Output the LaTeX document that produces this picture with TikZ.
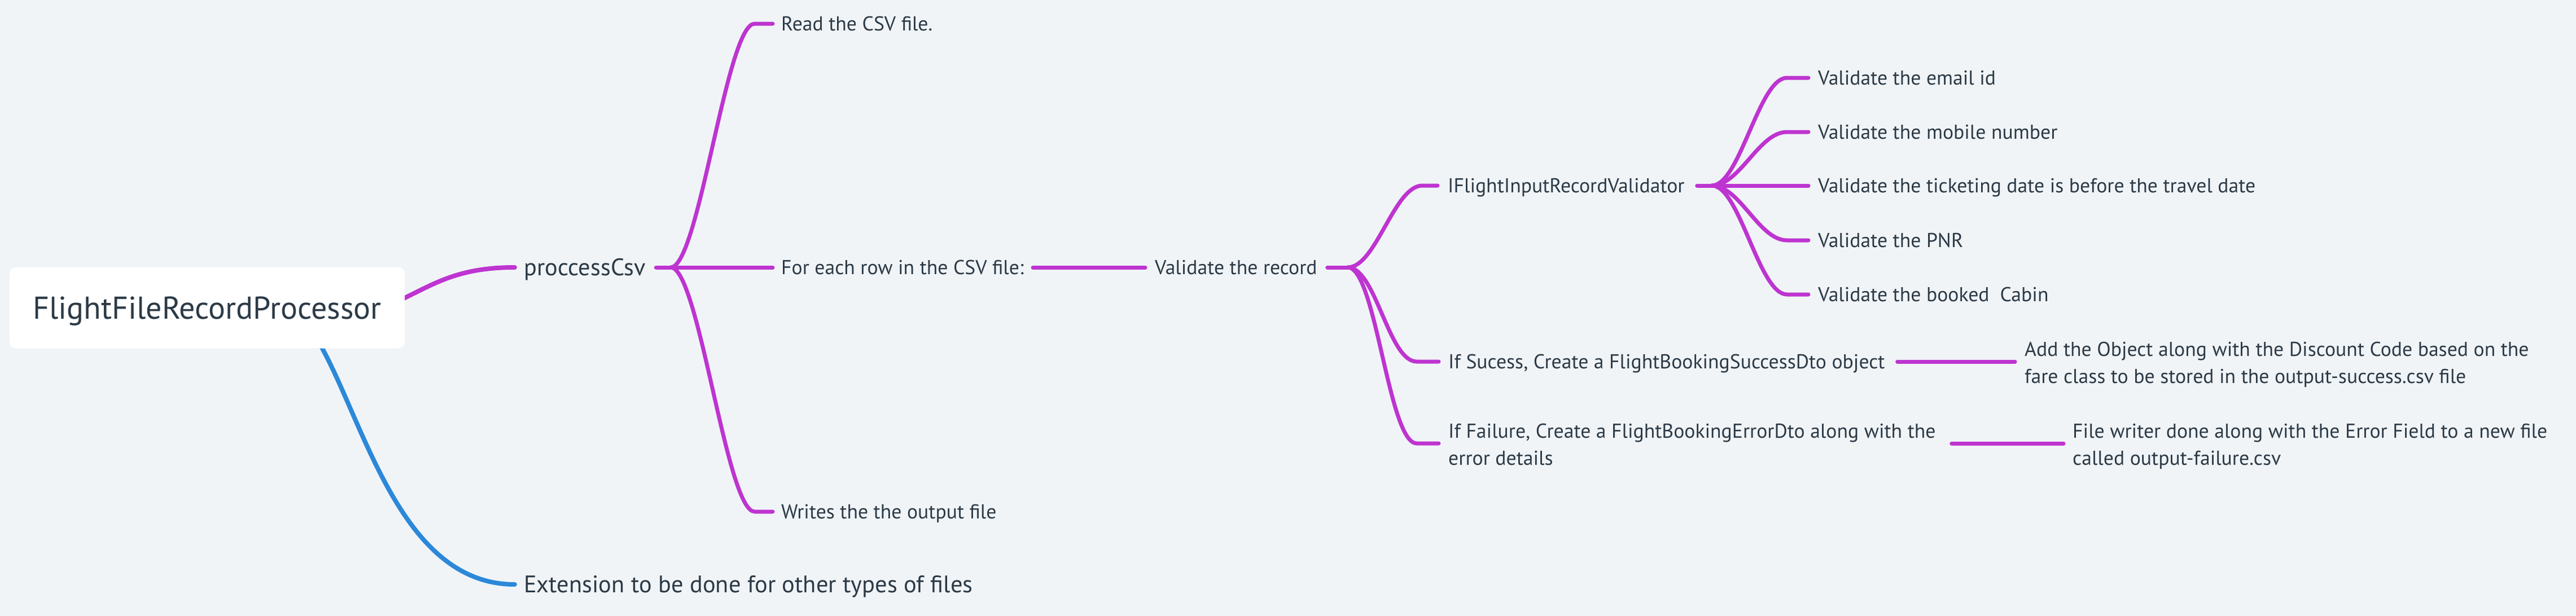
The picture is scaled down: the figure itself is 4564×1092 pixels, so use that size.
\documentclass[tikz,border=0pt]{standalone}
\usepackage{fontspec}
\setmainfont{PT Sans}
\usetikzlibrary{calc}
\definecolor{bgc}{RGB}{240,244,247}
\definecolor{ink}{RGB}{44,58,70}
\definecolor{mag}{RGB}{190,52,208}
\definecolor{blu}{RGB}{44,136,217}
\pgfdeclarelayer{bgl}
\pgfdeclarelayer{lines}
\pgfsetlayers{bgl,lines,main}
\newcommand\tstrut{\rule[-6.5pt]{0pt}{42.5pt}}
\begin{document}
\begin{tikzpicture}[x=1pt,y=-1pt,
  base/.style={inner sep=0pt, anchor=west, text=ink},
  t2/.style={base, font=\fontsize{42.5}{50}\selectfont, text height=29.7pt, text depth=0pt},
  t3/.style={base, font=\fontsize{35.7}{48}\selectfont, text height=25pt, text depth=0pt},
  t3m/.style={base, font=\fontsize{35.7}{48}\selectfont, align=left},
  rootbox/.style={fill=white, rounded corners=11pt, minimum width=700pt, minimum height=144pt,
    inner sep=0pt, text=ink, font=\fontsize{56}{60}\selectfont, text height=39.2pt, text depth=0pt},
  l1/.style={line width=8pt, line cap=round},
  l2/.style={mag, line width=7pt, line cap=round},
]
\begin{pgfonlayer}{bgl}
\fill[bgc] (0,0) rectangle (4564,1092);
\end{pgfonlayer}
\useasboundingbox (0,0) rectangle (4564,1092);

% nodes
\node[rootbox] (root) at (367,545.5) {FlightFileRecordProcessor};
\node[t2] (proc) at (928,474) {proccessCsv};
\node[t2] (ext) at (928,1036) {Extension to be done for other types of files};
\node[t3] (read) at (1384,42) {Read the CSV file.};
\node[t3] (each) at (1384,474) {For each row in the CSV file:};
\node[t3] (writes) at (1384,907) {Writes the the output file};
\node[t3] (rec) at (2046,474) {Validate the record};
\node[t3] (ifv) at (2565,329) {IFlightInputRecordValidator};
\node[t3] (v1) at (3221,138) {Validate the email id};
\node[t3] (v2) at (3221,234) {Validate the mobile number};
\node[t3] (v3) at (3221,329) {Validate the ticketing date is before the travel date};
\node[t3] (v4) at (3221,426) {Validate the PNR};
\node[t3] (v5) at (3221,522) {Validate the booked\ \ Cabin};
\node[t3] (succ) at (2566,641) {If Sucess, Create a FlightBookingSuccessDto object};
\node[t3m] (add) at (3587,641) {\tstrut Add the Object along with the Discount Code based on the\\\tstrut fare class to be stored in the output-success.csv file};
\node[t3m] (fail) at (2566,786) {\tstrut If Failure, Create a FlightBookingErrorDto along with the\\\tstrut error details};
\node[t3m] (fw) at (3672,786) {\tstrut File writer done along with the Error Field to a new file\\\tstrut called output-failure.csv};

\begin{pgfonlayer}{lines}
% root level
\draw[l1, mag] ($(root.east)+(-27,-5)$) .. controls +(70,-30) and +(-112,0) .. ($(proc.west)+(-16,0)$);
\draw[l1, blu] ($(root.south)+(188,-27)$) .. controls +(85,130) and +(-212,0) .. ($(ext.west)+(-16,0)$);
\end{pgfonlayer}

% proccessCsv
\coordinate (j1) at ($(proc.east)+(44,0)$);
\draw[l2] ($(proc.east)+(18,0)$) -- ($(each.west)+(-15,0)$);
\draw[l2] (j1) .. controls +(50,0) and +(-50,0) .. ($(read.west)+(-47,0)$) -- ($(read.west)+(-15,0)$);
\draw[l2] (j1) .. controls +(50,0) and +(-50,0) .. ($(writes.west)+(-47,0)$) -- ($(writes.west)+(-15,0)$);
\draw[l2] ($(each.east)+(16,0)$) -- ($(rec.west)+(-17,0)$);

% Validate the record
\coordinate (j2) at ($(rec.east)+(54,0)$);
\draw[l2] ($(rec.east)+(18,0)$) -- (j2);
\draw[l2] (j2) .. controls +(50,0) and +(-50,0) .. ($(ifv.west)+(-45,0)$) -- ($(ifv.west)+(-18,0)$);
\draw[l2] (j2) .. controls +(50,0) and +(-50,0) .. ($(succ.west)+(-56,0)$) -- ($(succ.west)+(-17,0)$);
\draw[l2] (j2) .. controls +(50,0) and +(-50,0) .. ($(fail.west)+(-56,0)$) -- ($(fail.west)+(-17,0)$);

% IFlightInputRecordValidator
\coordinate (j3) at ($(ifv.east)+(48,0)$);
\draw[l2] ($(ifv.east)+(22,0)$) -- ($(v3.west)+(-17,0)$);
\foreach \v in {v1,v2,v4,v5}{
  \draw[l2] (j3) .. controls +(50,0) and +(-50,0) .. ($(\v.west)+(-55,0)$) -- ($(\v.west)+(-17,0)$);
}

% outcomes
\draw[l2] ($(succ.east)+(22,0)$) -- ($(add.west)+(-17,0)$);
\draw[l2] ($(fail.east)+(28,0)$) -- ($(fw.west)+(-16,0)$);
\end{tikzpicture}
\end{document}
